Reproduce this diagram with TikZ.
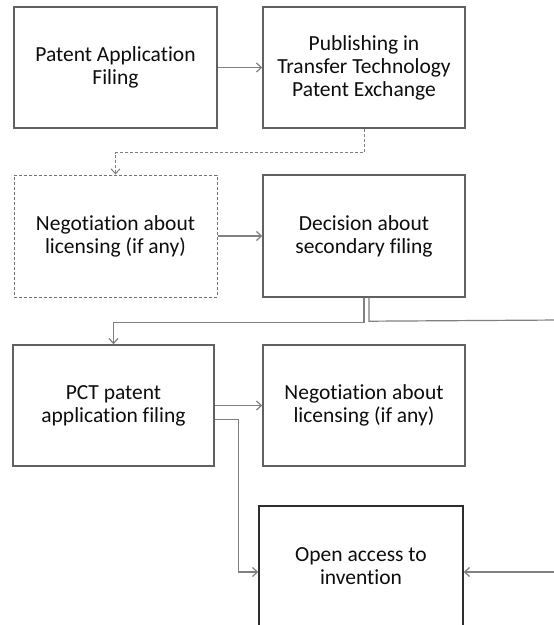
\documentclass[tikz,border=0pt]{standalone}
\usepackage{fontspec}
\setmainfont{Carlito}[Ligatures=NoCommon]
\usetikzlibrary{arrows.meta}

\begin{document}
\begin{tikzpicture}[x=1pt,y=-1pt,
    stage/.style={draw=black!62,line width=1.4pt,rectangle,minimum width=202pt,minimum height=121pt,
      align=center,font=\fontsize{21.5}{23}\selectfont,text=black!95},
    dashbox/.style={draw=black!55,line width=1pt,dash pattern=on 3pt off 2pt},
    conn/.style={draw=black!50,line width=1.2pt,-{Straight Barb[length=5pt,width=9pt]}}]
    \useasboundingbox (0,0) rectangle (554,625);
    \clip (0,0) rectangle (554,625);
    \node[stage,minimum width=203pt] (filing) at (115.5,67.5){Patent Application\\Filing};
    \node[stage] (publish) at (364,67.5){Publishing in\\Transfer Technology\\Patent Exchange};
    \node[stage,dashbox,minimum width=203pt,minimum height=122pt] (nego1) at (115.5,236){Negotiation about\\licensing (if any)};
    \node[stage,minimum height=122pt] (decide) at (364,236){Decision about\\secondary filing};
    \node[stage,minimum width=201pt] (pct) at (113.5,405.5){PCT patent\\application filing};
    \node[stage] (nego2) at (364,405.5){Negotiation about\\licensing (if any)};
    \node[stage,draw=black!82,minimum width=204pt,minimum height=120pt] (open) at (361,566){Open access to\\invention};
    \coordinate (rightA) at (560,320);
    \coordinate (rightB) at (560,572);
    \path[conn] (filing) edge (publish);
    \draw[conn,dash pattern=on 3pt off 2pt,line width=1pt] (publish.south) -- ++(0,24) -| (nego1.north);
    \path[conn] (nego1) edge (decide);
    \draw[conn] (decide.south) -- ++(0,24.5) -| (pct.north);
    \draw[draw=black!50,line width=1.2pt] ([xshift=5pt]decide.south) -- ++(0,23.5) -- (rightA);
    \path[conn] (pct) edge (nego2);
    \draw[conn] ([yshift=-14pt]pct.east) -- ++(24,0) |- ([yshift=-6pt]open.west);
    \draw[conn] (rightB) -- (open.east |- rightB);
  \end{tikzpicture}
\end{document}
